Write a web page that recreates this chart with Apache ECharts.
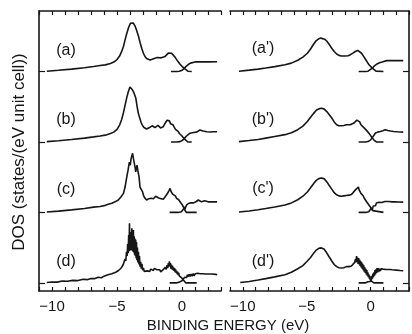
<!DOCTYPE html>
<html>
<head>
<meta charset="utf-8">
<title>DOS panels</title>
<script src="https://cdn.jsdelivr.net/npm/echarts@6/dist/echarts.min.js"></script>
<style>
  html, body { margin: 0; padding: 0; background: #fff; }
  #chart { width: 412px; height: 334px; }
</style>
</head>
<body>
<div id="chart"></div>
<script>
// binding energy (eV) vs DOS, each curve split into occupied / unoccupied part
const xLabelValues = [-10, -5, 0];
const rowOffsets = [30, 20, 10, 0]; // vertical shift of rows (a)..(d)
const leftLabels = ['(a)', '(b)', '(c)', '(d)'];
const rightLabels = ["(a')", "(b')", "(c')", "(d')"];

// ---- left column ----
const occA = [[-10.4,0.05],[-9.5,0.18],[-8.5,0.35],[-7.5,0.55],[-6.8,0.72],[-6.3,0.85],[-5.9,0.95],[-5.5,1.15],[-5.25,1.35],[-5.0,1.7],[-4.8,2.2],[-4.64,2.86],[-4.5,3.6],[-4.38,4.5],[-4.25,5.4],[-4.1,6.3],[-3.97,6.85],[-3.87,7.0],[-3.75,6.9],[-3.62,6.5],[-3.5,5.9],[-3.36,5.1],[-3.22,4.1],[-3.1,3.3],[-2.97,2.6],[-2.85,2.15],[-2.72,1.85],[-2.6,1.7],[-2.45,1.65],[-2.3,1.72],[-2.08,1.9],[-1.9,2.0],[-1.75,2.05],[-1.6,1.95],[-1.45,1.95],[-1.3,2.15],[-1.18,2.4],[-1.05,2.62],[-0.92,2.72],[-0.8,2.6],[-0.67,2.4],[-0.54,2.05],[-0.41,1.69],[-0.28,1.35],[-0.15,1.05],[0.0,0.75],[0.18,0.45],[0.32,0.2],[0.45,0.05],[0.55,0],[0.75,0]];
const unoA = [[-0.85,0],[-0.4,0],[-0.2,0.05],[0.0,0.18],[0.18,0.45],[0.32,0.75],[0.48,1.0],[0.65,1.2],[0.8,1.32],[1.0,1.37],[1.5,1.38],[2.0,1.38],[2.7,1.4]];

const occB = [[-10.4,0.05],[-9.5,0.18],[-8.5,0.35],[-7.5,0.55],[-6.8,0.72],[-6.3,0.85],[-5.9,0.97],[-5.5,1.2],[-5.25,1.4],[-5.0,1.8],[-4.8,2.4],[-4.64,3.2],[-4.5,4.2],[-4.38,5.2],[-4.25,6.3],[-4.12,7.2],[-4.0,7.8],[-3.92,7.9],[-3.85,7.5],[-3.78,7.3],[-3.7,7.0],[-3.62,6.9],[-3.55,6.2],[-3.45,5.0],[-3.36,4.1],[-3.25,3.4],[-3.15,2.8],[-3.05,2.4],[-2.95,2.1],[-2.85,2.0],[-2.72,1.85],[-2.6,1.9],[-2.5,2.05],[-2.4,2.2],[-2.3,2.3],[-2.2,2.15],[-2.08,2.05],[-1.95,2.2],[-1.85,2.35],[-1.75,2.3],[-1.65,2.0],[-1.55,1.95],[-1.45,2.15],[-1.35,2.5],[-1.25,2.8],[-1.15,3.1],[-1.05,3.25],[-0.97,3.0],[-0.88,2.6],[-0.8,2.4],[-0.7,2.45],[-0.6,2.1],[-0.5,1.8],[-0.4,1.75],[-0.3,1.5],[-0.2,1.2],[-0.1,0.95],[0.0,0.85],[0.1,0.6],[0.2,0.4],[0.32,0.15],[0.45,0],[0.75,0]];
const unoB = [[-0.85,0],[-0.4,0],[-0.15,0.05],[0.05,0.25],[0.2,0.55],[0.35,0.85],[0.5,1.1],[0.62,1.25],[0.75,1.2],[0.88,1.35],[1.0,1.45],[1.12,1.4],[1.25,1.5],[1.38,1.7],[1.5,1.72],[1.62,1.55],[1.75,1.4],[1.9,1.45],[2.05,1.45],[2.2,1.42],[2.4,1.45],[2.7,1.45]];

const occC = [[-10.4,0.05],[-9.5,0.18],[-8.5,0.36],[-7.5,0.55],[-6.8,0.75],[-6.3,0.85],[-5.9,1.0],[-5.67,1.15],[-5.4,1.3],[-5.15,1.5],[-4.9,1.76],[-4.7,2.2],[-4.5,2.7],[-4.38,3.6],[-4.25,5.0],[-4.15,6.0],[-4.05,7.15],[-3.98,6.7],[-3.92,7.6],[-3.86,8.0],[-3.8,8.4],[-3.73,7.6],[-3.66,6.9],[-3.6,6.3],[-3.56,5.75],[-3.5,6.4],[-3.46,6.7],[-3.4,6.0],[-3.3,5.0],[-3.23,3.6],[-3.16,3.7],[-3.1,3.4],[-3.03,2.9],[-2.97,2.46],[-2.88,2.1],[-2.8,1.85],[-2.72,1.76],[-2.64,1.8],[-2.55,1.95],[-2.46,1.9],[-2.38,2.0],[-2.3,2.15],[-2.2,1.95],[-2.1,2.1],[-2.02,2.3],[-1.95,2.35],[-1.88,2.15],[-1.8,2.05],[-1.7,2.15],[-1.6,1.95],[-1.52,1.9],[-1.44,1.86],[-1.36,2.0],[-1.28,2.25],[-1.18,2.46],[-1.1,2.75],[-1.0,3.1],[-0.92,3.4],[-0.85,3.0],[-0.78,2.8],[-0.72,2.6],[-0.65,2.7],[-0.58,2.4],[-0.5,2.3],[-0.42,2.0],[-0.33,1.76],[-0.25,1.8],[-0.15,1.5],[-0.05,1.3],[0.03,1.06],[0.1,0.8],[0.15,0.59],[0.22,0.3],[0.3,0.05],[0.35,0],[1.13,0]];
const unoC = [[-0.95,0],[-0.3,0],[-0.05,0.1],[0.05,0.3],[0.12,0.5],[0.18,0.8],[0.22,0.4],[0.28,0.75],[0.36,1.06],[0.44,1.0],[0.52,1.3],[0.62,1.52],[0.7,1.35],[0.8,1.2],[0.9,1.35],[1.0,1.4],[1.1,1.55],[1.26,1.76],[1.38,1.6],[1.5,1.5],[1.62,1.58],[1.75,1.65],[1.88,1.55],[2.0,1.5],[2.2,1.52],[2.45,1.5],[2.7,1.5]];

const occD = [[-10.4,0.05],[-10.0,0.12],[-9.6,0.1],[-9.2,0.25],[-8.8,0.22],[-8.4,0.35],[-8.0,0.32],[-7.6,0.5],[-7.3,0.45],[-7.0,0.62],[-6.7,0.6],[-6.45,0.8],[-6.2,0.72],[-6.0,0.95],[-5.85,0.85],[-5.7,1.15],[-5.55,1.0],[-5.4,1.3],[-5.25,1.2],[-5.1,1.5],[-4.98,1.45],[-4.88,1.75],[-4.78,1.7],[-4.68,2.1],[-4.6,2.05],[-4.52,2.6],[-4.45,2.5],[-4.38,3.4],[-4.32,3.1],[-4.27,4.4],[-4.22,3.8],[-4.18,5.5],[-4.14,4.2],[-4.1,6.8],[-4.07,4.5],[-4.04,8.45],[-4.01,5.0],[-3.98,7.2],[-3.95,4.6],[-3.92,7.0],[-3.89,4.8],[-3.86,7.75],[-3.83,4.6],[-3.8,6.8],[-3.77,4.4],[-3.74,7.5],[-3.71,4.3],[-3.68,6.6],[-3.65,4.0],[-3.62,6.3],[-3.59,3.8],[-3.56,6.1],[-3.53,3.5],[-3.5,5.8],[-3.47,3.2],[-3.43,5.0],[-3.39,2.9],[-3.35,4.4],[-3.31,2.6],[-3.27,3.8],[-3.23,2.3],[-3.18,3.0],[-3.13,2.0],[-3.08,2.7],[-3.03,1.8],[-2.97,2.1],[-2.9,1.6],[-2.83,1.8],[-2.76,1.45],[-2.69,1.7],[-2.62,1.5],[-2.55,1.8],[-2.48,1.6],[-2.41,1.95],[-2.34,1.7],[-2.27,1.95],[-2.2,1.75],[-2.13,2.05],[-2.06,1.8],[-1.99,2.15],[-1.92,1.85],[-1.85,2.0],[-1.78,1.7],[-1.71,1.85],[-1.64,1.55],[-1.57,1.75],[-1.5,1.6],[-1.43,1.9],[-1.36,1.7],[-1.29,2.2],[-1.22,1.9],[-1.15,2.5],[-1.1,2.1],[-1.05,2.8],[-1.0,2.3],[-0.97,3.05],[-0.93,2.3],[-0.89,2.8],[-0.85,2.0],[-0.81,2.6],[-0.77,1.9],[-0.73,2.4],[-0.69,1.8],[-0.65,2.2],[-0.61,1.7],[-0.57,2.1],[-0.53,1.5],[-0.49,1.9],[-0.45,1.4],[-0.41,1.7],[-0.37,1.25],[-0.33,1.55],[-0.29,1.1],[-0.25,1.4],[-0.21,1.0],[-0.17,1.25],[-0.13,0.9],[-0.09,1.1],[-0.05,0.75],[-0.01,0.95],[0.03,0.6],[0.07,0.75],[0.11,0.4],[0.15,0.55],[0.19,0.2],[0.23,0.3],[0.28,0],[1.13,0]];
const unoD = [[-0.95,0],[-0.4,0],[-0.2,0.1],[-0.1,0.05],[0.0,0.3],[0.05,0.2],[0.1,0.55],[0.15,0.4],[0.2,0.8],[0.25,0.55],[0.3,1.0],[0.36,0.75],[0.42,1.15],[0.48,0.85],[0.55,1.2],[0.62,0.9],[0.7,1.25],[0.78,0.95],[0.86,1.3],[0.94,1.0],[1.02,1.3],[1.1,1.05],[1.2,1.35],[1.3,1.1],[1.4,1.3],[1.5,1.05],[1.6,1.3],[1.7,1.1],[1.8,1.25],[1.9,1.1],[2.0,1.25],[2.15,1.1],[2.3,1.25],[2.45,1.15],[2.6,1.2],[2.7,1.15]];

// ---- right column (broadened) ----
const occA2 = [[-10.3,0.05],[-9.5,0.2],[-8.8,0.35],[-8.2,0.5],[-7.5,0.7],[-6.7,0.96],[-6.2,1.2],[-5.7,1.6],[-5.3,2.05],[-4.95,2.6],[-4.7,3.2],[-4.44,3.95],[-4.25,4.4],[-4.06,4.65],[-3.9,4.75],[-3.75,4.75],[-3.6,4.6],[-3.42,4.3],[-3.22,3.8],[-3.04,3.3],[-2.85,2.85],[-2.66,2.5],[-2.48,2.3],[-2.28,2.22],[-2.0,2.2],[-1.77,2.24],[-1.58,2.4],[-1.39,2.62],[-1.2,2.85],[-1.01,3.0],[-0.86,2.9],[-0.71,2.6],[-0.55,2.15],[-0.38,1.67],[-0.25,1.3],[-0.13,0.96],[0.0,0.7],[0.13,0.48],[0.28,0.22],[0.42,0.06],[0.52,0],[1.0,0]];
const unoA2 = [[-0.94,0],[-0.4,0],[-0.2,0.05],[-0.05,0.18],[0.13,0.48],[0.3,0.82],[0.5,1.08],[0.7,1.25],[0.89,1.35],[1.1,1.48],[1.27,1.55],[1.6,1.55],[2.0,1.55],[2.55,1.55]];

const occB2 = [[-10.3,0.05],[-9.5,0.2],[-8.8,0.35],[-8.2,0.55],[-7.5,0.78],[-6.7,1.04],[-6.2,1.3],[-5.7,1.75],[-5.3,2.25],[-4.95,2.9],[-4.7,3.5],[-4.44,4.1],[-4.25,4.5],[-4.06,4.7],[-3.85,4.8],[-3.65,4.7],[-3.45,4.35],[-3.25,3.9],[-3.04,3.4],[-2.85,2.85],[-2.66,2.45],[-2.48,2.3],[-2.28,2.3],[-2.1,2.35],[-1.9,2.45],[-1.77,2.42],[-1.6,2.45],[-1.45,2.5],[-1.3,2.7],[-1.19,2.9],[-1.08,3.1],[-0.96,3.26],[-0.86,2.85],[-0.76,2.45],[-0.64,2.2],[-0.51,2.0],[-0.38,1.75],[-0.25,1.5],[-0.12,1.2],[0.0,0.9],[0.13,0.57],[0.26,0.28],[0.38,0.06],[0.45,0],[1.0,0]];
const unoB2 = [[-0.94,0],[-0.4,0],[-0.2,0.06],[0.0,0.3],[0.13,0.57],[0.26,0.95],[0.38,1.28],[0.55,1.4],[0.76,1.5],[0.95,1.6],[1.14,1.75],[1.35,1.62],[1.55,1.55],[1.8,1.5],[2.1,1.45],[2.55,1.4]];

const occC2 = [[-10.3,0.05],[-9.5,0.2],[-8.8,0.38],[-8.2,0.55],[-7.5,0.78],[-6.7,1.05],[-6.2,1.35],[-5.7,1.8],[-5.3,2.3],[-4.95,2.9],[-4.7,3.5],[-4.44,4.15],[-4.25,4.55],[-4.06,4.8],[-3.85,4.9],[-3.65,4.8],[-3.45,4.4],[-3.25,3.85],[-3.04,3.3],[-2.85,2.8],[-2.66,2.5],[-2.48,2.35],[-2.28,2.3],[-2.1,2.35],[-1.9,2.4],[-1.7,2.45],[-1.5,2.55],[-1.35,2.75],[-1.19,3.2],[-1.08,3.4],[-0.96,3.6],[-0.9,3.2],[-0.84,3.0],[-0.76,2.7],[-0.68,2.6],[-0.6,2.4],[-0.51,2.05],[-0.42,1.9],[-0.33,1.55],[-0.25,1.35],[-0.15,1.1],[-0.05,0.85],[0.05,0.6],[0.1,0.45],[0.17,0.25],[0.24,0.08],[0.3,0],[1.0,0]];
const unoC2 = [[-0.94,0],[-0.4,0],[-0.15,0.1],[0.0,0.35],[0.05,0.6],[0.12,0.3],[0.2,0.9],[0.3,1.1],[0.38,0.95],[0.45,1.35],[0.55,1.25],[0.65,1.45],[0.76,1.53],[0.88,1.4],[1.0,1.5],[1.12,1.55],[1.27,1.7],[1.4,1.55],[1.55,1.6],[1.7,1.5],[1.9,1.5],[2.2,1.47],[2.55,1.46]];

const occD2 = [[-10.2,0.05],[-9.5,0.2],[-8.8,0.4],[-8.2,0.6],[-7.5,0.85],[-6.7,1.15],[-6.2,1.5],[-5.7,2.0],[-5.3,2.45],[-4.95,3.1],[-4.7,3.6],[-4.44,4.25],[-4.25,4.65],[-4.06,4.9],[-3.85,4.96],[-3.65,4.8],[-3.45,4.3],[-3.25,3.7],[-3.04,3.1],[-2.85,2.6],[-2.66,2.3],[-2.48,2.15],[-2.28,2.1],[-2.1,2.15],[-1.9,2.3],[-1.7,2.3],[-1.5,2.4],[-1.35,2.6],[-1.25,2.9],[-1.18,3.4],[-1.14,2.9],[-1.1,3.8],[-1.06,3.0],[-1.02,3.6],[-0.98,2.7],[-0.94,3.5],[-0.9,2.6],[-0.86,3.3],[-0.82,2.4],[-0.78,3.1],[-0.74,2.2],[-0.7,2.9],[-0.66,2.0],[-0.62,2.7],[-0.58,1.8],[-0.54,2.5],[-0.5,1.6],[-0.46,2.2],[-0.42,1.4],[-0.38,2.0],[-0.34,1.2],[-0.3,1.8],[-0.26,1.0],[-0.22,1.5],[-0.18,0.8],[-0.14,1.2],[-0.1,0.6],[-0.06,1.0],[-0.02,0.4],[0.02,0.7],[0.06,0.25],[0.1,0.45],[0.14,0.1],[0.2,0.2],[0.26,0],[1.0,0]];
const unoD2 = [[-0.94,0],[-0.4,0],[-0.2,0.15],[-0.14,0.05],[-0.08,0.4],[-0.02,0.2],[0.02,0.7],[0.06,0.4],[0.1,1.0],[0.14,0.6],[0.18,1.3],[0.22,0.8],[0.26,1.5],[0.3,1.0],[0.34,1.8],[0.38,1.2],[0.42,1.9],[0.46,1.4],[0.5,2.1],[0.55,1.5],[0.6,2.1],[0.65,1.6],[0.7,2.0],[0.76,1.7],[0.82,2.0],[0.9,1.75],[0.98,1.95],[1.08,1.8],[1.2,1.9],[1.35,1.85],[1.5,1.9],[1.7,1.85],[2.0,1.8],[2.3,1.75],[2.55,1.72]];

const leftCurves = [[occA, unoA], [occB, unoB], [occC, unoC], [occD, unoD]];
const rightCurves = [[occA2, unoA2], [occB2, unoB2], [occC2, unoC2], [occD2, unoD2]];

const ink = '#161616';
const font = 'Liberation Sans, Arial, sans-serif';

const makeSeries = (curves, xIdx, yIdx) => {
  const out = [];
  curves.forEach((pair, row) => {
    pair.forEach((pts) => {
      out.push({
        type: 'line',
        xAxisIndex: xIdx,
        yAxisIndex: yIdx,
        showSymbol: false,
        silent: true,
        lineStyle: { color: ink, width: 1.6 },
        data: pts.map((p) => [p[0], p[1] + rowOffsets[row]]),
      });
    });
  });
  return out;
};

const energyAxis = (gridIndex, top) => ({
  type: 'value',
  gridIndex: gridIndex,
  position: top ? 'top' : 'bottom',
  min: -11,
  max: 3,
  interval: 1,
  axisLine: { show: true, onZero: false, lineStyle: { color: ink, width: 1.6 } },
  axisTick: { show: true, inside: true, length: 4, lineStyle: { color: ink, width: 1.2 } },
  splitLine: { show: false },
  axisLabel: {
    show: !top,
    margin: 8,
    color: ink,
    fontFamily: font,
    fontSize: 15,
    formatter: (v) => (xLabelValues.indexOf(v) >= 0 ? (v < 0 ? '\u2212' + (-v) : String(v)) : ''),
  },
});

const dosAxis = (gridIndex, side) => ({
  type: 'value',
  gridIndex: gridIndex,
  position: side,
  min: -1.16,
  max: 38.6,
  axisLine: { show: true, onZero: false, lineStyle: { color: ink, width: 1.6 } },
  axisTick: { show: true, inside: true, length: 6, customValues: rowOffsets, lineStyle: { color: ink, width: 1.2 } },
  axisLabel: { show: false },
  splitLine: { show: false },
});

const labelText = (txt, x, y) => ({
  type: 'text',
  x: x,
  y: y,
  style: { text: txt, fill: ink, font: '16px ' + font, align: 'center', verticalAlign: 'middle' },
});

const chart = echarts.init(document.getElementById('chart'), null, { renderer: 'canvas' });

const option = {
  animation: false,
  backgroundColor: '#fff',
  grid: [
    { left: 39, top: 11, width: 182, height: 280 },
    { left: 230, top: 11, width: 184, height: 280 },
  ],
  xAxis: [energyAxis(0, false), energyAxis(0, true), energyAxis(1, false), energyAxis(1, true)],
  yAxis: [dosAxis(0, 'left'), dosAxis(1, 'right')],
  series: makeSeries(leftCurves, 0, 0).concat(makeSeries(rightCurves, 2, 1)),
  graphic: [
    labelText(leftLabels[0], 66, 51),
    labelText(leftLabels[1], 66, 120),
    labelText(leftLabels[2], 66, 190),
    labelText(leftLabels[3], 66, 262),
    labelText(rightLabels[0], 263, 49),
    labelText(rightLabels[1], 263, 120),
    labelText(rightLabels[2], 263, 189),
    labelText(rightLabels[3], 263, 262),
    {
      type: 'text',
      x: 228,
      y: 326,
      style: { text: 'BINDING ENERGY (eV)', fill: ink, font: '15px ' + font, align: 'center', verticalAlign: 'middle' },
    },
    {
      type: 'text',
      x: 19,
      y: 152,
      rotation: Math.PI / 2,
      style: { text: 'DOS (states/(eV unit cell))', fill: ink, font: '17px ' + font, align: 'center', verticalAlign: 'middle' },
    },
  ],
};

chart.setOption(option);
</script>
</body>
</html>
